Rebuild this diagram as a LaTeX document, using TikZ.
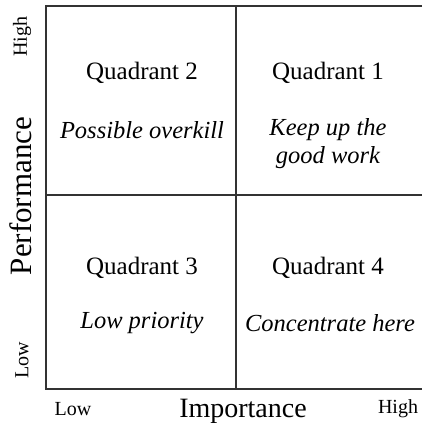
\documentclass[tikz,border=0pt]{standalone}
\usepackage{fontspec}
\setmainfont{Liberation Serif}
\usetikzlibrary{positioning}

\tikzset{
  quad/.style={font=\fontsize{25}{29}\selectfont},
  note/.style={font=\fontsize{24.5}{28}\selectfont\itshape, align=center},
  axis/.style={font=\fontsize{28}{32}\selectfont},
  tick/.style={font=\fontsize{20}{24}\selectfont},
  grid line/.style={line width=2.4pt, black!80}
}

\begin{document}
\begin{tikzpicture}[x=1pt, y=-1pt]
\useasboundingbox (0, 0) rectangle (422, 427);

\coordinate (tl) at (46, 6);
\coordinate (bl) at (46, 389);
\coordinate (tr) at (422, 6);
\coordinate (br) at (422, 389);
\coordinate (mt) at (236, 6);
\coordinate (mb) at (236, 389);
\coordinate (ml) at (46, 195);
\coordinate (mr) at (422, 195);

\draw[grid line] (tr) -- (tl) -- (bl) -- (br);
\draw[grid line] (mt) -- (mb);
\draw[grid line] (ml) -- (mr);

\node[quad] (q2) at (142, 73) {Quadrant 2};
\node[note] (n2) at (142, 130) {Possible overkill};
\node[quad] (q1) at (328, 73) {Quadrant 1};
\node[note] (n1) at (328, 144) {Keep up the\\good work};
\node[quad] (q3) at (142, 268) {Quadrant 3};
\node[note] (n3) at (142, 323) {Low priority};
\node[quad] (q4) at (328, 268) {Quadrant 4};
\node[note] (n4) at (330, 323) {Concentrate here};

\node[axis, font=\fontsize{31}{35}\selectfont, rotate=90] (perf) at (21, 196) {Performance};
\node[axis] (imp) at (243, 411) {Importance};
\node[tick, rotate=90] (yhigh) at (22, 37) {High};
\node[tick, rotate=90] (ylow) at (22, 360) {Low};
\node[tick] (xlow) at (73, 409) {Low};
\node[tick] (xhigh) at (398, 409) {High};
\end{tikzpicture}
\end{document}
